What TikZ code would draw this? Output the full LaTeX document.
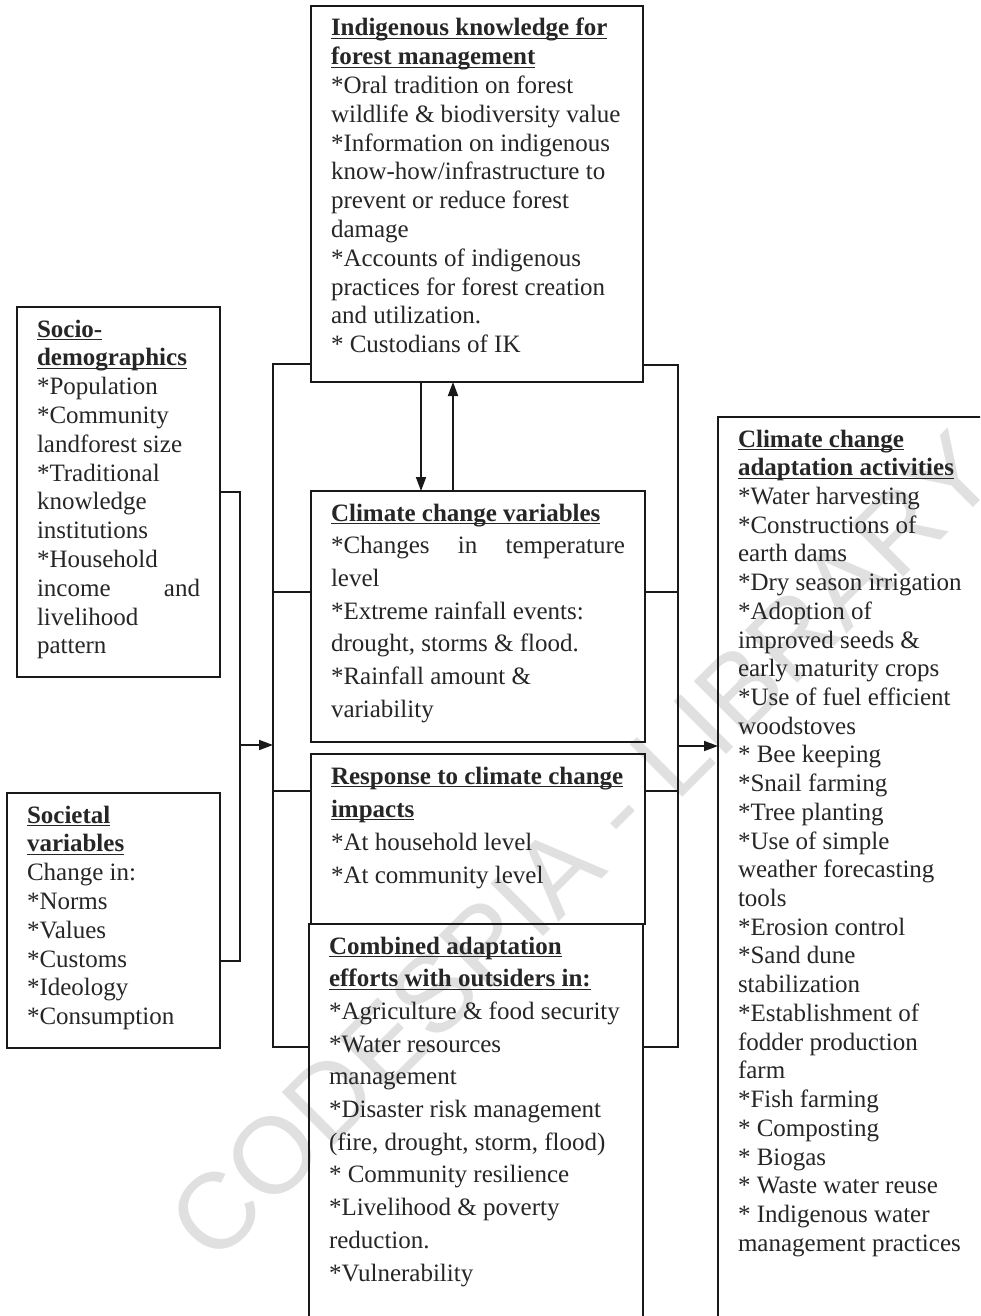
\documentclass[tikz,border=0pt]{standalone}
\usepackage{fontspec}
\setmainfont{Liberation Serif}
\newfontfamily\wmfont{Liberation Sans}
\usetikzlibrary{arrows.meta}

\newcommand{\boxtext}[4]{\parbox[c][#2][t]{#1}{\fontsize{12.5}{#3}\selectfont\rule{0pt}{15pt}#4}}
\newcommand{\hd}[1]{\underline{\raisebox{0pt}[\height][0pt]{\textbf{#1}}}}

\begin{document}
\begin{tikzpicture}[x=0.5pt,y=-0.5pt,
  box/.style={draw=black!90,line width=0.9pt,anchor=north west,inner xsep=10pt,inner ysep=0pt,outer sep=0pt,text=black!85},
  link/.style={draw=black!90,line width=0.9pt},
  arr/.style={link,-{Triangle[length=7pt,width=5pt]}}]
\clip (0,0) rectangle (980,1316);
\fill[white] (0,0) rectangle (980,1316);

\node[rotate=45,text=black!12,font=\wmfont\fontsize{54}{54}\selectfont] (wm) at (582,846) {CODESPIA - LIBRARY};

\node[box] (ik) at (311,6) {\boxtext{146pt}{188pt}{14.4pt}{\hd{Indigenous knowledge for}\par
\hd{forest management}\par
*Oral tradition on forest\par
wildlife \& biodiversity value\par
*Information on indigenous\par
know-how/infrastructure to\par
prevent or reduce forest\par
damage\par
*Accounts of indigenous\par
practices for forest creation\par
and utilization.\par
* Custodians of IK}};

\node[box] (socio) at (17,307) {\boxtext{81.5pt}{185pt}{14.4pt}{\hd{Socio-}\par
\hd{demographics}\par
*Population\par
*Community\par
landforest size\par
*Traditional\par
knowledge\par
institutions\par
*Household\par
income\hfill and\par
livelihood\par
pattern}};

\node[box] (soc) at (7,793) {\boxtext{86.5pt}{127.5pt}{14.4pt}{\hd{Societal}\par
\hd{variables}\par
Change in:\par
*Norms\par
*Values\par
*Customs\par
*Ideology\par
*Consumption}};

\node[box] (ccv) at (311,491) {\boxtext{147pt}{125.5pt}{16.35pt}{\hd{Climate change variables}\par
*Changes\hfill in\hfill temperature\par
level\par
*Extreme rainfall events:\par
drought, storms \& flood.\par
*Rainfall amount \&\par
variability}};

\node[box] (resp) at (311,754) {\boxtext{147pt}{85pt}{16.5pt}{\hd{Response to climate change}\par
\hd{impacts}\par
*At household level\par
*At community level}};

\node[box] (comb) at (309,924) {\boxtext{147pt}{203pt}{16.35pt}{\hd{Combined adaptation}\par
\hd{efforts with outsiders in:}\par
*Agriculture \& food security\par
*Water resources\par
management\par
*Disaster risk management\par
(fire, drought, storm, flood)\par
* Community resilience\par
*Livelihood \& poverty\par
reduction.\par
*Vulnerability}};

\node[box] (act) at (718,417) {\boxtext{125pt}{456.5pt}{14.36pt}{\hd{Climate change}\par
\hd{adaptation activities}\par
*Water harvesting\par
*Constructions of\par
earth dams\par
*Dry season irrigation\par
*Adoption of\par
improved seeds \&\par
early maturity crops\par
*Use of fuel efficient\par
woodstoves\par
* Bee keeping\par
*Snail farming\par
*Tree planting\par
*Use of simple\par
weather forecasting\par
tools\par
*Erosion control\par
*Sand dune\par
stabilization\par
*Establishment of\par
fodder production\par
farm\par
*Fish farming\par
* Composting\par
* Biogas\par
* Waste water reuse\par
* Indigenous water\par
management practices}};

\coordinate (lt) at (240,492);
\coordinate (lm) at (240,745);
\coordinate (lb) at (240,961);
\coordinate (ct) at (273,364);
\coordinate (c1) at (273,592);
\coordinate (c2) at (273,791);
\coordinate (cb) at (273,1047);
\coordinate (rt) at (678,365);
\coordinate (r1) at (678,592);
\coordinate (rm) at (678,746);
\coordinate (r2) at (678,791);
\coordinate (rb) at (678,1047);
\coordinate (dn) at (421,0);
\coordinate (up) at (453,0);

\draw[link] (socio.east |- lt) -- (lt) -- (lb) -- (soc.east |- lb);
\draw[arr] (lm) -- (ct |- lm);

\draw[link] (ik.west |- ct) -- (ct) -- (cb) -- (comb.west |- cb);
\draw[link] (c1) -- (ccv.west |- c1);
\draw[link] (c2) -- (resp.west |- c2);

\draw[link] (ik.east |- rt) -- (rt) -- (rb) -- (comb.east |- rb);
\draw[link] (ccv.east |- r1) -- (r1);
\draw[link] (resp.east |- r2) -- (r2);
\draw[arr] (rm) -- (act.west |- rm);

\draw[arr] (ik.south -| dn) -- (ccv.north -| dn);
\draw[arr] (ccv.north -| up) -- (ik.south -| up);

\end{tikzpicture}
\end{document}
